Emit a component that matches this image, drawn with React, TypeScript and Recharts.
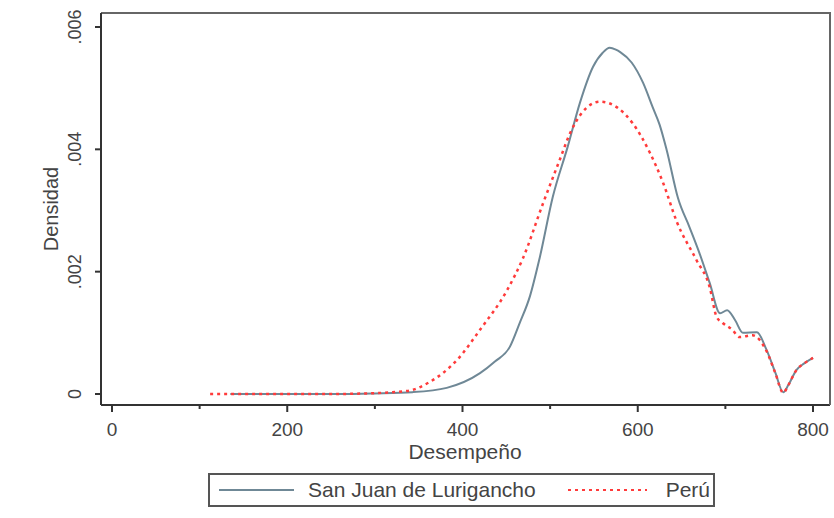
import React from 'react';
import { LineChart, Line, XAxis, YAxis, Legend } from 'recharts';

// Densidad kernel: San Juan de Lurigancho vs Perú
const sjlScores = [135, 200, 260, 300, 343, 382, 420, 437, 454, 465, 477, 488, 503, 520, 534, 549, 560, 568, 575, 580, 593, 606, 617, 625, 633, 646, 659, 670, 682, 694, 702, 711, 720, 736, 747, 757, 766, 772, 781, 790, 800];
const sjlDensity = [0, 0, 0, 0.00001, 0.00003, 0.0001, 0.00034, 0.00053, 0.00077, 0.00115, 0.0016, 0.00222, 0.00322, 0.00404, 0.00476, 0.00535, 0.00558, 0.00566, 0.00563, 0.00559, 0.00542, 0.00509, 0.00469, 0.0044, 0.00399, 0.0032, 0.00273, 0.00232, 0.00182, 0.00132, 0.00137, 0.00121, 0.001, 0.00101, 0.00072, 0.00035, 0.00003, 0.00015, 0.00039, 0.0005, 0.00059];

const peruScores = [112, 150, 200, 250, 291, 337, 363, 394, 420, 451, 469, 492, 511, 523, 537, 557, 576, 594, 614, 629, 645, 667, 682, 690, 697, 708, 716, 731, 747, 757, 766, 772, 781, 790, 800];
const peruDensity = [0, 0, 0, 0, 0.00001, 0.00005, 0.0002, 0.00056, 0.00105, 0.0017, 0.00222, 0.00312, 0.00383, 0.00427, 0.00461, 0.00478, 0.00469, 0.00443, 0.00394, 0.00345, 0.0028, 0.00219, 0.00175, 0.00126, 0.00116, 0.00105, 0.00093, 0.00096, 0.0007, 0.00034, 0.00002, 0.00015, 0.00039, 0.0005, 0.00059];

const xTicks = [0, 100, 200, 300, 400, 500, 600, 700, 800];
const yTicks = [0, 0.002, 0.004, 0.006];

const X_DOMAIN = [-12.55, 819.4];
const Y_DOMAIN = [-0.00018, 0.006229];
const PLOT_TOP = 13;

const GRAY = '#6f8896';
const RED = '#ff3b3b';
const TEXT = '#444';
const FONT = '"Liberation Sans", Arial, sans-serif';

const sjlData = sjlScores.map((x, i) => ({ x, y: sjlDensity[i] }));
const peruData = peruScores.map((x, i) => ({ x, y: peruDensity[i] }));

const XTick = (props: any) => {
  const { x, y, payload } = props;
  const major = payload.value % 200 === 0;
  return (
    <g>
      <line x1={x} x2={x} y1={y} y2={y + (major ? 7 : 4)} stroke="#333" strokeWidth={2} />
      {major && (
        <text x={x} y={y + 31} textAnchor="middle" fontSize={19} fill={TEXT} fontFamily={FONT}>
          {payload.value}
        </text>
      )}
    </g>
  );
};

const YTick = (props: any) => {
  const { x, y, payload } = props;
  const v = payload.value;
  const label = v === 0 ? '0' : v.toFixed(3).replace(/^0/, '');
  return (
    <g>
      <line x1={x - 6} x2={x} y1={y} y2={y} stroke="#333" strokeWidth={2} />
      <text
        x={x - 20}
        y={y}
        transform={`rotate(-90, ${x - 20}, ${y})`}
        textAnchor="middle"
        fontSize={18}
        fill={TEXT}
        fontFamily={FONT}
      >
        {label}
      </text>
    </g>
  );
};

const YTitle = () => (
  <text x={58} y={209} transform="rotate(-90, 58, 209)" textAnchor="middle" fontSize={20} fill={TEXT} fontFamily={FONT}>
    Densidad
  </text>
);

// axis title, plus the top and right sides of the plot frame (taken from the axis box)
const XTitle = (props: any) => {
  const vb = props.viewBox || { x: 101, y: 405, width: 729, height: 113 };
  const left = vb.x;
  const right = vb.x + vb.width;
  const bottom = vb.y;
  return (
    <g>
      <polyline
        points={`${left},${PLOT_TOP} ${right},${PLOT_TOP} ${right},${bottom}`}
        fill="none"
        stroke="#666"
        strokeWidth={2}
      />
      <text x={465} y={459} textAnchor="middle" fontSize={21} fill={TEXT} fontFamily={FONT}>
        Desempeño
      </text>
    </g>
  );
};

const LegendBox = () => (
  <div
    style={{
      width: 507,
      height: 34,
      border: '2px solid #555',
      boxSizing: 'border-box',
      display: 'flex',
      alignItems: 'center',
      fontFamily: FONT,
      fontSize: 21,
      color: TEXT,
    }}
  >
    <svg width={90} height={20} style={{ marginLeft: 8, flexShrink: 0 }}>
      <line x1={1} x2={76} y1={10} y2={10} stroke={GRAY} strokeWidth={2} />
    </svg>
    <span style={{ whiteSpace: 'nowrap' }}>San Juan de Lurigancho</span>
    <svg width={100} height={20} style={{ marginLeft: 30, flexShrink: 0 }}>
      <line x1={2} x2={81} y1={10} y2={10} stroke={RED} strokeWidth={2} strokeDasharray="3 4" />
    </svg>
    <span>Perú</span>
  </div>
);

export default function App() {
  return (
    <div style={{ position: 'absolute', left: 0, top: 0, width: 834, height: 518, background: '#fff' }}>
      <LineChart width={834} height={518} margin={{ top: PLOT_TOP, right: 4, left: 0, bottom: 0 }}>
        <XAxis
          dataKey="x"
          type="number"
          domain={X_DOMAIN}
          ticks={xTicks}
          allowDataOverflow
          height={113}
          tickSize={0}
          tickMargin={0}
          tickLine={false}
          axisLine={{ stroke: '#333', strokeWidth: 2 }}
          tick={<XTick />}
          label={<XTitle />}
        />
        <YAxis
          dataKey="y"
          type="number"
          domain={Y_DOMAIN}
          ticks={yTicks}
          allowDataOverflow
          width={101}
          tickSize={0}
          tickMargin={0}
          tickLine={false}
          axisLine={{ stroke: '#333', strokeWidth: 2 }}
          tick={<YTick />}
          label={<YTitle />}
        />
        <Legend
          layout="horizontal"
          verticalAlign="middle"
          align="center"
          wrapperStyle={{ left: 208, top: 473, width: 507 }}
          content={() => <LegendBox />}
        />
        <Line
          data={sjlData}
          dataKey="y"
          name="San Juan de Lurigancho"
          type="monotone"
          stroke={GRAY}
          strokeWidth={2}
          dot={false}
          isAnimationActive={false}
        />
        <Line
          data={peruData}
          dataKey="y"
          name="Perú"
          type="monotone"
          stroke={RED}
          strokeWidth={2.5}
          strokeDasharray="3 4"
          dot={false}
          isAnimationActive={false}
        />
      </LineChart>
    </div>
  );
}
